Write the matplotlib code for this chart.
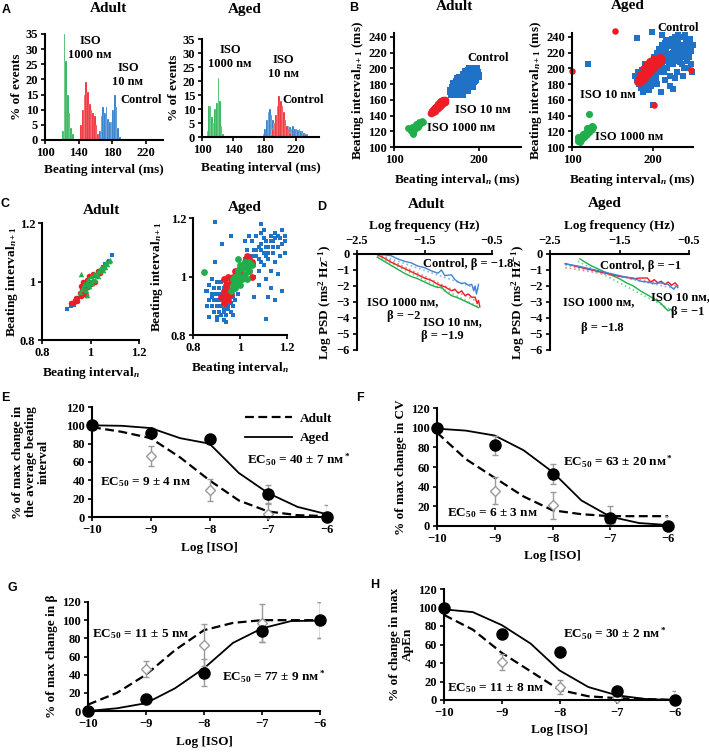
import numpy as np
import matplotlib
matplotlib.use('Agg')
from matplotlib import pyplot as plt
from matplotlib.lines import Line2D

W, H = 709, 753
NM = 'n\u1d0d'

# ---------------- data ----------------
# A: histograms (bin centre, % of events)
a_ad_iso1000_x = [121, 123, 125, 127, 129, 131, 133]
a_ad_iso1000_y = [3, 35, 26, 15, 9, 4, 2]
a_ad_iso10_x = [143, 145, 147, 149, 151, 153, 155, 157, 159, 161, 163]
a_ad_iso10_y = [5, 10, 15, 19, 16, 12, 10, 9, 8, 5, 2]
a_ad_ctrl_x = [165, 167, 169, 171, 173, 175, 177, 179, 181, 183, 185, 187, 189]
a_ad_ctrl_y = [3, 8, 11, 9, 11, 7, 6, 6, 10, 15, 11, 4, 1]

a_ag_iso1000_x = [107, 109, 111, 113, 115, 117, 119, 121, 123, 125, 127]
a_ag_iso1000_y = [2, 11, 11, 7, 5, 10, 12, 21, 13, 4, 1]
a_ag_ctrl_x = [179, 181, 183, 185, 187, 189, 191, 193, 195, 197, 199, 201, 203, 205, 207,
               209, 211, 213, 215, 217, 219, 221, 223, 225, 227, 229, 231, 233, 235, 237]
a_ag_ctrl_y = [1, 3, 6, 9, 10, 8, 6, 5, 5, 5, 5, 5, 5, 5, 4,
               4, 4, 3.5, 3, 4, 3, 3, 2.5, 3, 2, 2, 1.5, 1, 1, 0.5]
a_ag_iso10_x = [189, 191, 193, 195, 197, 199, 201, 203, 205, 207, 209, 211, 213]
a_ag_iso10_y = [1, 3, 5, 8, 11, 14.5, 13, 11, 9, 6, 4, 3, 1.5]

# B: Poincare plots (ms)
b_ad_ctrl_x = [167, 169, 170, 172, 173, 175, 176, 177, 178, 179, 180, 181, 182, 183, 184, 185, 186,
               187, 188, 189, 190, 191, 192, 193, 194, 195, 196, 197, 198, 174, 178, 183, 188, 180,
               186, 192, 171, 176, 185, 190, 195, 199]
b_ad_ctrl_y = [171, 168, 175, 170, 178, 172, 180, 175, 168, 183, 177, 172, 186, 180, 175, 189, 183,
               178, 192, 186, 181, 195, 189, 184, 197, 192, 187, 199, 194, 183, 188, 192, 197, 168,
               172, 178, 180, 186, 196, 199, 185, 190]
b_ad_iso10_x = [144, 145, 146, 147, 148, 149, 150, 151, 152, 153, 154, 155, 156, 157, 158, 159,
                160, 156, 152, 148, 146, 158, 160, 154, 150]
b_ad_iso10_y = [143, 146, 144, 148, 146, 150, 148, 152, 150, 154, 152, 156, 154, 158, 156, 159,
                157, 159, 155, 149, 147, 160, 160, 157, 151]
b_ad_iso1000_x = [120, 121, 122, 123, 124, 125, 126, 127, 128, 129, 130, 131, 132, 133, 134, 121,
                  123, 119, 126, 130, 117, 122]
b_ad_iso1000_y = [120, 122, 121, 124, 122, 126, 124, 127, 126, 129, 128, 131, 130, 133, 132, 125,
                  118, 123, 129, 132, 124, 116]

b_ag_ctrl_x = [178, 180, 182, 183, 185, 186, 187, 188, 189, 190, 191, 192, 193, 194, 195, 196, 197,
               198, 199, 200, 201, 202, 203, 204, 205, 206, 207, 208, 209, 210, 211, 212, 213, 214,
               215, 216, 217, 218, 219, 220, 221, 222, 223, 224, 225, 226, 227, 228, 229, 230, 231,
               232, 233, 234, 235, 236, 237, 238, 239, 240, 241, 242, 243, 244, 245, 246, 247, 248,
               249, 250, 188, 210, 222, 228, 237, 244, 120, 200, 180, 199, 225, 212, 195, 205, 215, 232,
               205, 210, 215, 220, 225, 230, 235, 212, 218, 224, 208, 214, 220, 226, 232, 238, 196,
               203, 228, 240, 216, 204, 198, 185, 190, 245, 236, 222]
b_ag_ctrl_y = [190, 185, 195, 180, 188, 175, 198, 183, 192, 178, 188, 200, 172, 185, 195, 205, 180,
               190, 210, 185, 198, 215, 192, 205, 220, 198, 210, 225, 202, 215, 230, 205, 220, 195,
               232, 212, 225, 200, 218, 235, 208, 228, 215, 238, 205, 222, 232, 212, 225, 195, 218,
               235, 228, 208, 222, 240, 215, 230, 200, 225, 236, 210, 232, 218, 228, 238, 205, 222,
               195, 230, 170, 170, 178, 188, 190, 200, 205, 153, 239, 246, 174, 243, 172, 180, 185, 242,
               200, 205, 210, 215, 220, 225, 230, 222, 228, 232, 195, 200, 205, 210, 215, 220, 192,
               208, 240, 243, 236, 188, 178, 195, 205, 215, 205, 190]
b_ag_iso10_x = [180, 182, 183, 184, 185, 186, 187, 188, 189, 190, 191, 192, 193, 194, 195, 196, 197,
                198, 199, 200, 201, 202, 203, 204, 205, 206, 207, 208, 209, 210, 211, 186, 190, 194,
                198, 202, 206, 210, 184, 188, 192, 196, 200, 100, 153, 248, 202]
b_ag_iso10_y = [183, 186, 182, 189, 185, 192, 188, 195, 190, 198, 193, 200, 196, 203, 198, 205, 200,
                207, 203, 209, 205, 211, 207, 212, 208, 213, 210, 214, 211, 215, 212, 183, 186, 192,
                196, 200, 204, 208, 193, 200, 205, 209, 213, 197, 248, 198, 153]
b_ag_iso1000_x = [107, 108, 109, 110, 111, 112, 113, 114, 115, 116, 117, 118, 119, 120, 121, 122,
                  123, 124, 125, 126, 125, 110, 121, 108, 119]
b_ag_iso1000_y = [108, 111, 107, 112, 109, 114, 111, 116, 113, 118, 115, 120, 117, 122, 119, 124,
                  121, 125, 123, 126, 127, 106, 142, 113, 124]

# C: normalised Poincare plots
c_ad_ctrl_x = [0.905, 0.92, 0.935, 0.95, 0.965, 0.98, 1.0, 1.02, 1.04, 1.06, 1.075, 1.09, 0.93, 0.96, 1.05]
c_ad_ctrl_y = [0.905, 0.915, 0.935, 0.945, 0.965, 0.975, 1.0, 1.02, 1.035, 1.06, 1.07, 1.09, 0.92, 0.955, 1.05]
c_ad_iso10_x = [0.92, 0.93, 0.94, 0.945, 0.955, 0.96, 0.965, 0.97, 0.975, 0.98, 0.985, 0.99, 0.995,
                1.0, 1.01, 1.02, 1.03, 1.04, 1.05, 0.96, 0.98]
c_ad_iso10_y = [0.925, 0.93, 0.945, 0.935, 0.96, 0.95, 0.975, 1.0, 0.965, 0.99, 1.005, 0.98, 1.02,
                0.99, 1.025, 1.0, 1.035, 1.03, 1.045, 0.985, 0.955]
c_ad_iso1000_x = [0.955, 0.965, 0.97, 0.975, 0.98, 0.985, 0.99, 0.995, 1.0, 1.005, 1.01, 1.015, 1.02,
                  1.025, 1.03, 1.035, 1.04, 1.045, 1.05, 1.055, 1.06, 1.065, 1.07, 1.075, 1.08, 1.0,
                  0.99, 0.96, 0.985]
c_ad_iso1000_y = [0.965, 0.975, 0.98, 0.99, 0.97, 1.0, 1.01, 0.985, 1.02, 0.995, 1.01, 1.025, 1.005,
                  1.03, 1.02, 1.04, 1.035, 1.05, 1.04, 1.055, 1.05, 1.065, 1.06, 1.07, 1.075, 1.0,
                  0.99, 1.025, 0.955]

c_ag_ctrl_x = [0.86, 0.87, 0.87, 0.88, 0.88, 0.89, 0.89, 0.89, 0.90, 0.90, 0.90, 0.90, 0.91, 0.91,
               0.91, 0.92, 0.92, 0.92, 0.92, 0.93, 0.93, 0.93, 0.94, 0.94, 0.94, 0.94, 0.95, 0.95,
               0.95, 0.96, 0.96, 0.96, 0.97, 0.97, 0.98, 0.98, 0.99, 0.88, 0.86, 0.93, 0.97,
               1.01, 1.02, 1.03, 1.03, 1.04, 1.05, 1.05, 1.06, 1.06, 1.07, 1.07, 1.08, 1.08, 1.09,
               1.09, 1.10, 1.10, 1.11, 1.11, 1.12, 1.12, 1.13, 1.13, 1.14, 1.14, 1.15, 1.15, 1.16,
               1.16, 1.17, 1.17, 1.18, 1.18, 1.19, 1.19, 1.04, 1.08, 1.13, 1.10, 1.02,
               0.893, 1.09, 0.96, 0.925, 0.895, 1.18, 1.19, 1.15, 1.18, 1.11, 0.90, 0.94, 0.856,
               0.98, 1.06, 1.12, 0.87,
               0.88, 0.90, 0.91, 0.92, 0.93, 0.94, 0.95, 0.96, 0.89, 0.91, 0.93, 0.95, 1.05, 1.07,
               1.09, 1.11, 1.13, 1.15, 1.08, 1.10, 1.12, 1.14, 1.06, 1.16, 1.09, 1.11]
c_ag_ctrl_y = [0.95, 0.92, 0.97, 0.90, 0.94, 0.88, 0.92, 0.96, 0.86, 0.90, 0.94, 0.98, 0.88, 0.92,
               0.96, 0.87, 0.90, 0.94, 0.98, 0.89, 0.92, 0.96, 0.87, 0.90, 0.94, 0.98, 0.89, 0.92,
               0.96, 0.88, 0.91, 0.95, 0.90, 0.93, 0.92, 0.96, 0.94, 0.99, 0.90, 0.85, 0.87,
               1.02, 1.06, 0.99, 1.09, 1.03, 1.07, 1.12, 1.00, 1.04, 1.09, 1.14, 1.02, 1.06, 1.11,
               1.15, 1.04, 1.08, 1.12, 0.99, 1.06, 1.10, 1.14, 1.02, 1.08, 1.12, 1.05, 1.15, 1.10,
               1.01, 1.13, 1.07, 1.16, 1.11, 1.14, 1.08, 1.14, 0.97, 0.96, 1.16, 1.12,
               1.187, 1.18, 1.14, 1.11, 1.05, 1.16, 1.12, 0.92, 0.95, 0.855, 0.85, 0.845, 0.95,
               1.015, 0.93, 0.93, 0.86,
               0.93, 0.92, 0.90, 0.92, 0.94, 0.92, 0.94, 0.93, 0.94, 0.94, 0.88, 0.90, 1.05, 1.07,
               1.09, 1.10, 1.12, 1.13, 1.10, 1.13, 1.08, 1.10, 1.09, 1.14, 1.05, 1.07]
c_ag_iso10_x = [0.92, 0.93, 0.93, 0.94, 0.94, 0.95, 0.95, 0.96, 0.96, 0.97, 0.97, 0.98, 0.98, 0.99,
                1.0, 1.01, 1.02, 1.03, 1.04, 1.04, 1.05, 1.03, 0.95, 0.93, 1.05]
c_ag_iso10_y = [0.93, 0.91, 0.95, 0.93, 0.97, 0.92, 0.95, 0.94, 0.98, 0.96, 1.0, 0.98, 1.02, 1.0,
                1.03, 1.01, 1.05, 1.03, 1.06, 1.02, 1.05, 1.07, 1.0, 0.99, 1.0]
c_ag_iso1000_x = [0.96, 0.97, 0.97, 0.98, 0.98, 0.99, 0.99, 1.0, 1.0, 1.0, 1.01, 1.01, 1.02, 1.02,
                  1.03, 1.03, 1.04, 1.04, 1.05, 0.99, 0.845]
c_ag_iso1000_y = [0.95, 0.97, 0.99, 0.96, 1.0, 0.98, 1.02, 0.97, 1.0, 1.04, 0.99, 1.03, 1.01, 1.05,
                  0.99, 1.03, 1.02, 1.05, 1.04, 1.06, 1.015]

# D: log PSD vs log frequency
d_ad_ctrl_x = [-2.2, -2.0, -1.9, -1.8, -1.7, -1.6, -1.5, -1.4, -1.3, -1.25, -1.2, -1.1, -1.05, -1.0,
               -0.95, -0.9, -0.85, -0.8, -0.77, -0.75, -0.73, -0.71, -0.7]
d_ad_ctrl_y = [0, -0.1, -0.3, -0.45, -0.55, -0.75, -0.85, -1.05, -1.2, -1.0, -1.35, -1.3, -1.6,
               -1.75, -1.85, -1.8, -1.95, -1.9, -2.3, -2.0, -2.5, -2.1, -1.9]
d_ad_iso10_x = [-2.22, -2.1, -2.0, -1.9, -1.8, -1.7, -1.6, -1.5, -1.4, -1.3, -1.2, -1.1, -1.05,
                -1.0, -0.95, -0.9, -0.85, -0.8, -0.75, -0.72, -0.7, -0.68]
d_ad_iso10_y = [0, -0.25, -0.5, -0.7, -0.9, -1.1, -1.3, -1.5, -1.65, -1.9, -2.05, -2.3, -2.2,
                -2.45, -2.3, -2.6, -2.5, -2.7, -2.7, -3.1, -2.9, -3.3]
d_ad_iso1000_x = [-2.2, -2.1, -2.0, -1.9, -1.8, -1.7, -1.6, -1.5, -1.4, -1.3, -1.25, -1.2, -1.1,
                  -1.0, -0.9, -0.8, -0.7]
d_ad_iso1000_y = [-0.2, -0.45, -0.7, -0.95, -1.2, -1.4, -1.55, -1.75, -1.95, -2.1, -2.05, -2.3,
                  -2.6, -2.75, -2.95, -3.15, -3.35]
d_ad_fit_x = [-2.2, -0.7]
d_ad_ctrl_fit = [0.0, -2.2]
d_ad_iso10_fit = [0.0, -3.0]
d_ad_iso1000_fit = [-0.15, -3.3]

d_ag_ctrl_x = [-2.28, -2.1, -1.9, -1.7, -1.5, -1.4, -1.3, -1.2, -1.1, -1.0, -0.9, -0.8, -0.72,
               -0.68, -0.66]
d_ag_ctrl_y = [-0.62, -0.75, -0.95, -1.15, -1.35, -1.45, -1.5, -1.7, -1.75, -1.85, -1.8, -1.9,
               -2.2, -2.0, -2.1]
d_ag_iso10_x = [-2.28, -2.1, -1.9, -1.7, -1.5, -1.4, -1.3, -1.2, -1.1, -1.05, -1.0, -0.95, -0.9,
                -0.85, -0.8, -0.75, -0.7, -0.66]
d_ag_iso10_y = [-0.6, -0.8, -1.0, -1.2, -1.4, -1.45, -1.55, -1.5, -1.5, -1.75, -1.6, -1.8, -1.7,
                -1.9, -1.75, -1.95, -1.8, -2.0]
d_ag_iso1000_x = [-2.07, -2.0, -1.9, -1.8, -1.7, -1.6, -1.5, -1.4, -1.3, -1.2, -1.1, -1.0, -0.95,
                  -0.9, -0.85, -0.8, -0.76, -0.72]
d_ag_iso1000_y = [-0.3, -0.5, -0.75, -0.95, -1.15, -1.35, -1.55, -1.8, -2.0, -2.3, -2.55, -2.8,
                  -2.95, -3.1, -3.35, -3.55, -3.45, -3.7]
d_ag_fit_x = [-2.28, -0.66]
d_ag_ctrl_fit = [-0.7, -2.2]
d_ag_iso10_fit = [-0.85, -2.0]
d_ag_iso1000_fit_x = [-2.1, -0.75]
d_ag_iso1000_fit = [-0.45, -3.5]

# E-H: dose response
log_iso = [-10, -9, -8, -7, -6]
curve_x = [-10, -9.5, -9, -8.5, -8, -7.5, -7, -6.5, -6]

e_adult = [100, 67, 30, 3, 0]
e_adult_err = [0, 11, 12, 11, 13]
e_aged = [100, 92, 85, 25, 0]
e_aged_err = [0, 3, 3, 10, 0]
e_adult_fit = [98, 93, 86, 65, 40, 18, 6, 2, 1]
e_aged_fit = [100, 99.5, 97, 86, 80, 48, 26, 11, 3]

f_adult = [100, 36, 21, 4, 0]
f_adult_err = [0, 14, 14, 8, 10]
f_aged = [100, 82, 53, 8, 0]
f_aged_err = [0, 10, 10, 12, 0]
f_adult_fit = [95, 68, 49, 30, 16, 12, 10, 10, 10]
f_aged_fit = [99, 97, 92, 77, 55, 26, 9.5, 3, 1]

g_adult = [0, 46, 73, 97, 100]
g_adult_err = [0, 9, 23, 21, 20]
g_aged = [0, 13, 42, 88, 100]
g_aged_err = [0, 0, 15, 12, 20]
g_adult_fit = [7, 20, 40, 67, 89, 97, 100, 100, 100]
g_aged_fit = [0, 3, 8.6, 25, 47, 75, 91, 99, 99.5]

h_adult = [100, 41, 14, 2, 0]
h_adult_err = [0, 9, 8, 2, 10]
h_aged = [100, 71, 52, 10, 0]
h_aged_err = [0, 2, 5, 0, 0]
h_adult_fit = [92, 76, 51, 31, 11, 4, 2, 1, 0]
h_aged_fit = [98, 95, 81, 61, 32, 14, 5, 1, 0]

BLUE = '#1f72c6'
RED = '#ee1d25'
GREEN = '#1fae4b'
GREY = '#9a9a9a'

plt.rcParams['font.family'] = ['Liberation Serif', 'DejaVu Serif']
plt.rcParams['font.weight'] = 'bold'
plt.rcParams['axes.labelweight'] = 'bold'
plt.rcParams['font.size'] = 9
plt.rcParams['mathtext.fontset'] = 'custom'
plt.rcParams['mathtext.rm'] = 'Liberation Serif:bold'
plt.rcParams['mathtext.it'] = 'Liberation Serif:italic:bold'
plt.rcParams['mathtext.bf'] = 'Liberation Serif:bold'
plt.rcParams['axes.linewidth'] = 1.5


def add_ax(fig, l, t, r, b):
    return fig.add_axes([l / W, 1 - b / H, (r - l) / W, (b - t) / H])


def ftext(fig, x, y, s, **kw):
    fig.text(x / W, 1 - y / H, s, **kw)


def style(ax):
    for s in ['top', 'right']:
        ax.spines[s].set_visible(False)
    ax.tick_params(direction='out', length=3, width=1.2, labelsize=9, pad=2)
    ax.patch.set_alpha(0)


fig = plt.figure(figsize=(W / 100, H / 100), dpi=100)

# panel letters
for letter, x, y in [('A', 6, 10), ('B', 354, 8), ('C', 5, 204), ('D', 322, 207),
                     ('E', 5, 398), ('F', 360, 398), ('G', 12, 588), ('H', 375, 585)]:
    ftext(fig, x, y, letter, family='Liberation Sans', weight='bold', size=9, ha='center', va='center')

# titles
for s, x, y in [('Adult', 109, 9), ('Aged', 245, 9), ('Adult', 455, 6), ('Aged', 628, 6),
                ('Adult', 102, 210), ('Aged', 245, 207), ('Adult', 427, 204), ('Aged', 605, 204)]:
    ftext(fig, x, y, s, size=11, ha='center', va='center')

# ---------- A ----------
ax = add_ax(fig, 45, 34, 163, 140)
style(ax)
ax.bar(a_ad_iso1000_x, a_ad_iso1000_y, width=2, color=GREEN, edgecolor='white', linewidth=0.2)
ax.bar(a_ad_iso10_x, a_ad_iso10_y, width=2, color=RED, edgecolor='white', linewidth=0.2)
ax.bar(a_ad_ctrl_x, a_ad_ctrl_y, width=2, color=BLUE, edgecolor='white', linewidth=0.2)
ax.set_xlim(100, 240)
ax.set_ylim(0, 35)
ax.set_xticks([100, 140, 180, 220])
ax.set_yticks(range(0, 36, 5))
ax.set_xlabel('Beating interval (ms)', size=9.5, labelpad=4)
ax.set_ylabel('% of events', size=9.5, labelpad=2)

ax = add_ax(fig, 202, 39, 319, 137)
style(ax)
ax.bar(a_ag_iso1000_x, a_ag_iso1000_y, width=2, color=GREEN, edgecolor='white', linewidth=0.2)
ax.bar(a_ag_ctrl_x, a_ag_ctrl_y, width=2, color=BLUE, edgecolor='white', linewidth=0.2)
ax.bar(a_ag_iso10_x, a_ag_iso10_y, width=2, color=RED, edgecolor='white', linewidth=0.2)
ax.set_xlim(100, 250)
ax.set_ylim(0, 35)
ax.set_xticks([100, 140, 180, 220])
ax.set_yticks(range(0, 36, 5))
ax.set_xlabel('Beating interval (ms)', size=9.5, labelpad=4)
ax.set_ylabel('% of events', size=9.5, labelpad=2)

for s, x, y, ha in [('ISO\n1000 ' + NM, 90, 48, 'center'), ('ISO\n10 ' + NM, 128, 75, 'center'),
                    ('Control', 120, 100, 'left'), ('ISO\n1000 ' + NM, 230, 57, 'center'),
                    ('ISO\n10 ' + NM, 283, 67, 'center'), ('Control', 282, 100, 'left')]:
    ftext(fig, x, y, s, size=9, ha=ha, va='center', linespacing=1.3)

# ---------- B ----------
for l, r, data in [(394, 521, (b_ad_ctrl_x, b_ad_ctrl_y, b_ad_iso10_x, b_ad_iso10_y,
                               b_ad_iso1000_x, b_ad_iso1000_y)),
                   (572, 693, (b_ag_ctrl_x, b_ag_ctrl_y, b_ag_iso10_x, b_ag_iso10_y,
                               b_ag_iso1000_x, b_ag_iso1000_y))]:
    ax = add_ax(fig, l, 33, r, 147)
    style(ax)
    big = l < 500
    ax.scatter(data[0], data[1], s=28 if big else 13, marker='s', color=BLUE, linewidths=0,
               clip_on=False)
    ax.scatter(data[2], data[3], s=30 if big else 22, marker='o', color=RED, linewidths=0,
               clip_on=False)
    ax.scatter(data[4], data[5], s=24 if big else 26, marker='o', color=GREEN, linewidths=0,
               clip_on=False)
    ax.set_xlim(100, 250)
    ax.set_ylim(100, 245)
    ax.set_xticks([100, 200])
    ax.set_yticks(range(100, 241, 20))
    ax.set_xlabel('Beating interval$_n$ (ms)', size=9.5, labelpad=4)
    ax.set_ylabel('Beating interval$_{n+1}$ (ms)', size=9.5, labelpad=2)

ftext(fig, 467, 58, 'Control', size=9, ha='left', va='center')
ftext(fig, 455, 110, 'ISO 10 ' + NM, size=9, ha='left', va='center')
ftext(fig, 427, 128, 'ISO 1000 ' + NM, size=9, ha='left', va='center')
ftext(fig, 657, 28, 'Control', size=9, ha='left', va='center')
ftext(fig, 580, 95, 'ISO 10 ' + NM, size=9, ha='left', va='center')
ftext(fig, 595, 137, 'ISO 1000 ' + NM, size=9, ha='left', va='center')

# ---------- C ----------
ax = add_ax(fig, 42, 223, 139, 340)
style(ax)
ax.scatter(c_ad_ctrl_x, c_ad_ctrl_y, s=12, marker='s', color=BLUE, linewidths=0)
ax.scatter(c_ad_iso10_x, c_ad_iso10_y, s=16, marker='o', color=RED, linewidths=0)
ax.scatter(c_ad_iso1000_x, c_ad_iso1000_y, s=16, marker='^', color=GREEN, linewidths=0)
ax.set_xlim(0.8, 1.2)
ax.set_ylim(0.8, 1.2)
ax.set_xticks([0.8, 1, 1.2], ['0.8', '1', '1.2'])
ax.set_yticks([0.8, 1, 1.2], ['0.8', '1', '1.2'])
ax.set_xlabel('Beating interval$_n$', size=9.5, labelpad=4)
ax.set_ylabel('Beating interval$_{n+1}$', size=9.5, labelpad=0)

ax = add_ax(fig, 193, 218, 287, 335)
style(ax)
ax.scatter(c_ag_ctrl_x, c_ag_ctrl_y, s=12, marker='s', color=BLUE, linewidths=0)
ax.scatter(c_ag_iso10_x, c_ag_iso10_y, s=24, marker='o', color=RED, linewidths=0)
ax.scatter(c_ag_iso1000_x, c_ag_iso1000_y, s=24, marker='o', color=GREEN, linewidths=0)
ax.set_xlim(0.8, 1.2)
ax.set_ylim(0.8, 1.2)
ax.set_xticks([0.8, 1, 1.2], ['0.8', '1', '1.2'])
ax.set_yticks([0.8, 1, 1.2], ['0.8', '1', '1.2'])
ax.set_xlabel('Beating interval$_n$', size=9.5, labelpad=4)
ax.set_ylabel('Beating interval$_{n+1}$', size=9.5, labelpad=4)

# ---------- D ----------
d_sets = [
    (357, 492, d_ad_ctrl_x, d_ad_ctrl_y, d_ad_iso10_x, d_ad_iso10_y, d_ad_iso1000_x, d_ad_iso1000_y,
     d_ad_fit_x, d_ad_ctrl_fit, d_ad_fit_x, d_ad_iso10_fit, d_ad_fit_x, d_ad_iso1000_fit),
    (550, 689, d_ag_ctrl_x, d_ag_ctrl_y, d_ag_iso10_x, d_ag_iso10_y, d_ag_iso1000_x, d_ag_iso1000_y,
     d_ag_fit_x, d_ag_ctrl_fit, d_ag_fit_x, d_ag_iso10_fit, d_ag_iso1000_fit_x, d_ag_iso1000_fit),
]
for d in d_sets:
    ax = add_ax(fig, d[0], 254, d[1], 350)
    for s in ['bottom', 'right']:
        ax.spines[s].set_visible(False)
    ax.patch.set_alpha(0)
    ax.xaxis.tick_top()
    ax.xaxis.set_label_position('top')
    ax.tick_params(direction='out', length=3, width=1.2, labelsize=9, pad=2)
    ax.plot(d[12], d[13], ':', color='#7fd496', lw=1.2)
    ax.plot(d[10], d[11], ':', color='#f58a8a', lw=1.2)
    ax.plot(d[8], d[9], ':', color='#8fb8ea', lw=1.2)
    ax.plot(d[6], d[7], color=GREEN, lw=1)
    ax.plot(d[4], d[5], color=RED, lw=1)
    ax.plot(d[2], d[3], color='#3f86d6', lw=1)
    ax.set_xlim(-2.5, -0.5)
    ax.set_ylim(-6, 0)
    ax.set_xticks([-2.5, -1.5, -0.5])
    ax.set_yticks(range(-6, 1))
    ax.set_xlabel('Log frequency (Hz)', size=9.5, labelpad=4)
    ax.set_ylabel('Log PSD (ms$^2$ Hz$^{-1}$)', size=9.5, labelpad=2)

for s, x, y in [('Control, \u03b2 = \u22121.8', 423, 264),
                ('ISO 1000 ' + NM + ',', 367, 302),
                ('\u03b2 = \u22122', 387, 316),
                ('ISO 10 ' + NM + ',', 423, 322),
                ('\u03b2 = \u22121.9', 421, 336),
                ('Control, \u03b2 = \u22121', 600, 266),
                ('ISO 10 ' + NM + ',', 651, 297),
                ('\u03b2 = \u22121', 671, 312),
                ('ISO 1000 ' + NM + ',', 563, 302),
                ('\u03b2 = \u22121.8', 581, 328)]:
    ftext(fig, x, y, s, size=9, ha='left', va='center')

# ---------- E-H ----------
panels = [
    (92, 407, 327, 517, e_adult, e_adult_err, e_aged, e_aged_err, e_adult_fit, e_aged_fit,
     '% of max change in\nthe average beating\ninterval', 12),
    (437, 408, 668, 526, f_adult, f_adult_err, f_aged, f_aged_err, f_adult_fit, f_aged_fit,
     '% of max change in CV', 3),
    (88, 602, 320, 711, g_adult, g_adult_err, g_aged, g_aged_err, g_adult_fit, g_aged_fit,
     '% of max change in \u03b2', 3),
    (444, 589, 675, 700, h_adult, h_adult_err, h_aged, h_aged_err, h_adult_fit, h_aged_fit,
     '% of change in max\nApEn', 3),
]
axes_dr = []
for p in panels:
    ax = add_ax(fig, p[0], p[1], p[2], p[3])
    style(ax)
    ax.spines['bottom'].set_zorder(5)
    ax.plot(curve_x, p[8], color='black', lw=1.6, ls=(0, (4, 2)), zorder=2)
    ax.plot(curve_x, p[9], color='black', lw=1.3, zorder=2)
    ax.errorbar(log_iso, p[4], yerr=p[5], fmt='none', ecolor=GREY, elinewidth=1, capsize=2, zorder=3)
    ax.errorbar(log_iso, p[6], yerr=p[7], fmt='none', ecolor=GREY, elinewidth=1, capsize=2, zorder=3)
    ax.plot(log_iso, p[4], 'D', ms=5.5, mfc='white', mec=GREY, mew=1, ls='none', zorder=4,
            clip_on=False)
    ax.plot(log_iso, p[6], 'o', ms=8, color='black', ls='none', zorder=4, clip_on=False)
    ax.set_xlim(-10, -6)
    ax.set_ylim(0, 120)
    ax.set_xticks(log_iso)
    ax.set_yticks(range(0, 121, 20))
    ax.set_xlabel('Log [ISO]', size=9.5, labelpad=4)
    ax.set_ylabel(p[10], size=9.5, labelpad=p[11], linespacing=1.1)
    axes_dr.append(ax)

axes_dr[0].legend([Line2D([], [], color='black', lw=1.6, ls=(0, (4, 2))),
                   Line2D([], [], color='black', lw=1.3)], ['Adult', 'Aged'],
                  loc='upper left', bbox_to_anchor=(238 / W, 1 - 406 / H),
                  bbox_transform=fig.transFigure, frameon=False, handlelength=3.6,
                  fontsize=9.5, labelspacing=0.55, borderpad=0, handletextpad=0.6)

for s, x, y in [('EC$_{50}$ = 40 \u00b1 7 ' + NM + '$^*$', 247, 460),
                ('EC$_{50}$ = 9 \u00b1 4 ' + NM, 100, 482),
                ('EC$_{50}$ = 63 \u00b1 20 ' + NM + '$^*$', 563, 462),
                ('EC$_{50}$ = 6 \u00b1 3 ' + NM, 447, 513),
                ('EC$_{50}$ = 11 \u00b1 5 ' + NM, 92, 634),
                ('EC$_{50}$ = 77 \u00b1 9 ' + NM + '$^*$', 222, 677),
                ('EC$_{50}$ = 30 \u00b1 2 ' + NM + '$^*$', 563, 634),
                ('EC$_{50}$ = 11 \u00b1 8 ' + NM, 447, 688)]:
    ftext(fig, x, y, s, size=9.5, ha='left', va='center')

fig.savefig('out.png', dpi=100)
